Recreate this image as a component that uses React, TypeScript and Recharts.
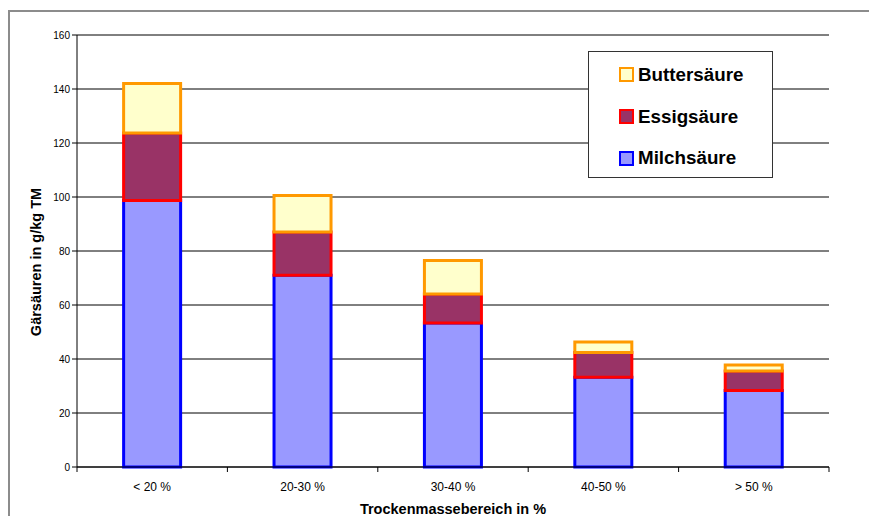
import React from 'react';
import { BarChart, Bar, XAxis, YAxis, CartesianGrid, Legend } from 'recharts';

const categories = ['< 20 %', '20-30 %', '30-40 %', '40-50 %', '> 50 %'];
const milchsaeure = [98.7, 71.0, 53.3, 33.2, 28.3];
const essigsaeure = [25.0, 16.0, 10.8, 9.2, 7.3];
const buttersaeure = [18.3, 13.6, 12.4, 3.9, 2.2];
const yTicks = [0, 20, 40, 60, 80, 100, 120, 140, 160];

const series = [
  { key: 'milch', name: 'Milchsäure', fill: '#9999FF', stroke: '#0000FF' },
  { key: 'essig', name: 'Essigsäure', fill: '#993366', stroke: '#FF0000' },
  { key: 'butter', name: 'Buttersäure', fill: '#FFFFCC', stroke: '#FF9900' },
];

const data = categories.map((cat, i) => ({
  cat,
  milch: milchsaeure[i],
  essig: essigsaeure[i],
  butter: buttersaeure[i],
}));

const FONT = '"Liberation Sans", Arial, sans-serif';
const X_TICK_SIZE = 5;
const X_TICK_MARGIN = 10.5;

const XTick = (props: any) => {
  const { x, y, payload, index } = props;
  const half = payload && typeof payload.offset === 'number' ? payload.offset : 0;
  const axisY = y - X_TICK_SIZE - X_TICK_MARGIN;
  return (
    <g>
      <line x1={x - half} x2={x - half} y1={axisY} y2={axisY + X_TICK_SIZE} stroke="#000" />
      {index === categories.length - 1 && (
        <line x1={x + half} x2={x + half} y1={axisY} y2={axisY + X_TICK_SIZE} stroke="#000" />
      )}
      <text x={x} y={y} dy="0.71em" textAnchor="middle" fontSize={12} fill="#000">
        {payload.value}
      </text>
    </g>
  );
};

const renderLegend = (props: any) => {
  const payload: any[] = props.payload || [];
  const order = ['butter', 'essig', 'milch'];
  const items = order.map((k) => {
    const s = series.find((x) => x.key === k)!;
    const p = payload.find((e) => e.dataKey === k);
    return { ...s, name: p ? p.value : s.name };
  });
  return (
    <div
      style={{
        boxSizing: 'border-box',
        width: 185,
        height: 127,
        border: '1px solid #333',
        background: '#fff',
        paddingTop: 2,
        fontFamily: FONT,
      }}
    >
      {items.map((it) => (
        <div
          key={it.key}
          style={{ height: 41.7, display: 'flex', alignItems: 'center', paddingLeft: 30 }}
        >
          <div
            style={{
              boxSizing: 'border-box',
              width: 15,
              height: 15,
              background: it.fill,
              border: `2px solid ${it.stroke}`,
              marginRight: 4,
            }}
          />
          <span style={{ fontSize: 18.8, fontWeight: 'bold', color: '#000' }}>{it.name}</span>
        </div>
      ))}
    </div>
  );
};

export default function App() {
  return (
    <div style={{ position: 'relative', width: 861, height: 508, fontFamily: FONT }}>
      <div
        style={{
          position: 'absolute',
          left: 0,
          top: 2,
          right: 0,
          bottom: 0,
          borderLeft: '2px solid #8c8c8c',
          borderTop: '2px solid #8c8c8c',
        }}
      />
      <BarChart
        width={861}
        height={508}
        data={data}
        margin={{ top: 27, right: 40, bottom: 0, left: 0 }}
        barCategoryGap="31%"
        style={{ position: 'absolute', left: 0, top: 0 }}
      >
        <CartesianGrid vertical={false} stroke="#000" />
        <XAxis
          dataKey="cat"
          height={49}
          tickLine={false}
          tickSize={X_TICK_SIZE}
          tickMargin={X_TICK_MARGIN}
          axisLine={{ stroke: '#000' }}
          tick={<XTick />}
          interval={0}
          label={{
            content: (p: any) => {
              const vb = p.viewBox || { x: 69, y: 459, width: 752 };
              return (
                <text
                  x={vb.x + vb.width / 2}
                  y={vb.y + 47}
                  textAnchor="middle"
                  fontSize={14.5}
                  fontWeight="bold"
                  fill="#000"
                >
                  Trockenmassebereich in %
                </text>
              );
            },
          }}
        />
        <YAxis
          domain={[0, 160]}
          ticks={yTicks}
          interval={0}
          width={69}
          tickSize={5}
          tickMargin={2}
          tick={{ fontSize: 10, fill: '#000' }}
          tickLine={{ stroke: '#000' }}
          axisLine={{ stroke: '#000' }}
          label={{
            content: (p: any) => {
              const vb = p.viewBox || { x: 0, y: 27, height: 432 };
              const cx = 33;
              const cy = vb.y + vb.height / 2 + 11;
              return (
                <text
                  x={cx}
                  y={cy}
                  transform={`rotate(-90 ${cx} ${cy})`}
                  textAnchor="middle"
                  fontSize={14.5}
                  fontWeight="bold"
                  fill="#000"
                >
                  Gärsäuren in g/kg TM
                </text>
              );
            },
          }}
        />
        <YAxis
          yAxisId="r"
          orientation="right"
          width={0}
          tick={false}
          tickLine={false}
          axisLine={{ stroke: '#000' }}
        />
        <Legend
          layout="horizontal"
          verticalAlign="middle"
          align="center"
          content={renderLegend}
          wrapperStyle={{ position: 'absolute', left: 580, top: 43, width: 185, height: 127 }}
        />
        {series.map((s) => (
          <Bar
            key={s.key}
            dataKey={s.key}
            name={s.name}
            stackId="a"
            fill={s.fill}
            stroke={s.stroke}
            strokeWidth={3}
            isAnimationActive={false}
          />
        ))}
      </BarChart>
    </div>
  );
}
